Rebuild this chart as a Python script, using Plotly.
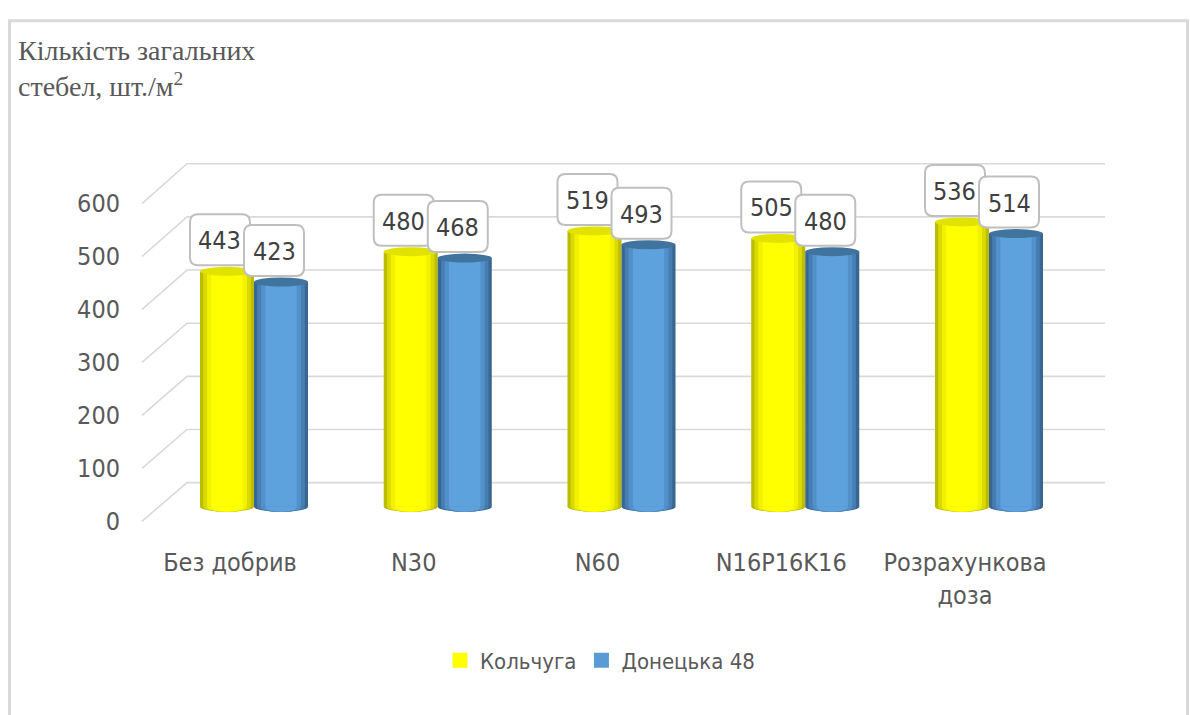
import plotly.graph_objects as go

# ---- data ----
categories = ["Без добрив", "N30", "N60", "N16P16K16", "Розрахункова<br>доза"]
kolchuga = [443, 480, 519, 505, 536]
donetska = [423, 468, 493, 480, 514]
series_names = ["Кольчуга", "Донецька 48"]
y_ticks = [0, 100, 200, 300, 400, 500, 600]

# ---- page geometry (pixels) ----
W, H = 1190, 715


def fx(px):
    return px / W


def fy(py):
    return 1 - py / H


CAT0, STEP = 254, 183.75      # bar-group centres
LAB0 = 230                    # category label centres (front edge)
BASE, SCALE = 512, 0.55       # bar floor and px per unit
BACK0, BACK_SCALE = 487, 0.55  # back wall
FRONT0, FRONT_SCALE = 527, 0.548  # front edge (tick labels)
BAR_W = 0.294
OFFS = [-BAR_W / 2, BAR_W / 2]

LABEL_FONT = "DejaVu Sans Condensed, Liberation Sans Narrow, Liberation Sans, sans-serif"
GREY = "#595959"

# cylinder shading layers: (width fraction, colour)
shades = [
    [(1.00, "#bcbc00"), (0.88, "#dada00"), (0.74, "#f2f200"), (0.58, "#ffff00")],
    [(1.00, "#386791"), (0.88, "#467eb3"), (0.74, "#5290ca"), (0.58, "#5ea2dd")],
]
legend_colors = ["#ffff00", "#5b9bd5"]
cap_colors = ["#e2e200", "#41739f"]
values = [kolchuga, donetska]

fig = go.Figure()
shapes = []

for s, (vals, name) in enumerate(zip(values, series_names)):
    xs = [i + OFFS[s] for i in range(len(categories))]
    for k, (frac, col) in enumerate(shades[s]):
        fig.add_trace(go.Bar(
            x=xs, y=vals, width=BAR_W * frac, name=name,
            marker=dict(color=col, line=dict(width=0)),
            showlegend=False, legendgroup=name, hoverinfo="skip",
        ))
        # rounded base of the cylinder
        for cx in xs:
            shapes.append(dict(
                type="circle", xref="x", yref="y", ysizemode="pixel", yanchor=0,
                x0=cx - BAR_W * frac / 2, x1=cx + BAR_W * frac / 2, y0=-5, y1=5,
                fillcolor=col, line=dict(width=0), layer="between",
            ))
    # top caps
    for cx, v in zip(xs, vals):
        shapes.append(dict(
            type="circle", xref="x", yref="y", ysizemode="pixel", yanchor=v,
            x0=cx - BAR_W / 2, x1=cx + BAR_W / 2, y0=-4.5, y1=4.5,
            fillcolor=cap_colors[s], line=dict(width=0), layer="above",
        ))

# legend keys (square swatches)
for name, col in zip(series_names, legend_colors):
    fig.add_trace(go.Scatter(
        x=[None], y=[None], mode="markers", name=name, legendgroup=name,
        marker=dict(symbol="square", size=15, color=col), hoverinfo="skip",
    ))

# value callouts with rounded boxes
annotations = []
bx0, bx1, by0, by1, r = -37, 23, 6, 57, 8
box_path = (f"M {bx0 + r},{by0} L {bx1 - r},{by0} Q {bx1},{by0} {bx1},{by0 + r} "
            f"L {bx1},{by1 - r} Q {bx1},{by1} {bx1 - r},{by1} L {bx0 + r},{by1} "
            f"Q {bx0},{by1} {bx0},{by1 - r} L {bx0},{by0 + r} Q {bx0},{by0} {bx0 + r},{by0} Z")
for i in range(len(categories)):
    for s, vals in enumerate(values):
        cx = i + OFFS[s]
        v = vals[i]
        shapes.append(dict(
            type="path", xref="x", yref="y", xsizemode="pixel", ysizemode="pixel",
            xanchor=cx, yanchor=v, path=box_path,
            fillcolor="white", line=dict(color="#bfbfbf", width=2), layer="above",
        ))
        annotations.append(dict(
            x=cx, y=v, xref="x", yref="y", text=str(v), showarrow=False,
            xshift=(bx0 + bx1) / 2, yshift=(by0 + by1) / 2 - 1,
            xanchor="center", yanchor="middle",
            font=dict(family=LABEL_FONT, size=25, color="#404040"),
        ))

# back-wall gridlines with their side-wall diagonals
for v in y_ticks:
    yf = FRONT0 - FRONT_SCALE * v
    yb = BACK0 - BACK_SCALE * v
    shapes.append(dict(
        type="path", xref="paper", yref="paper", layer="below",
        path=f"M {fx(142)},{fy(yf)} L {fx(187)},{fy(yb)} L {fx(1105)},{fy(yb)}",
        line=dict(color="#d9d9d9", width=1.6),
    ))

# outer chart frame
shapes.append(dict(
    type="rect", xref="paper", yref="paper", layer="below",
    x0=fx(9.5), x1=fx(1187.5), y0=-0.1, y1=fy(9),
    line=dict(color="#d9d9d9", width=3), fillcolor="rgba(0,0,0,0)",
))

# axis title
annotations.append(dict(
    xref="paper", yref="paper", x=fx(16), y=fy(22), xanchor="left", yanchor="top",
    text="Кількість загальних<br>стебел, шт./м<sup>2</sup>", showarrow=False, align="left",
    font=dict(family="Liberation Serif, Times New Roman, serif", size=28, color=GREY),
))

# carrier for the labelled front axes
fig.add_trace(go.Scatter(x=[None], y=[None], xaxis="x3", yaxis="y3", showlegend=False,
                         hoverinfo="skip", mode="markers"))

fig.update_layout(
    width=W, height=H,
    margin=dict(l=0, r=0, t=0, b=0),
    paper_bgcolor="white", plot_bgcolor="rgba(0,0,0,0)",
    barmode="overlay",
    xaxis=dict(range=[-0.5, 4.5], domain=[fx(CAT0 - STEP / 2), fx(CAT0 + 4.5 * STEP)], visible=False),
    yaxis=dict(range=[-30, 680], domain=[fy(BASE + 30 * SCALE), fy(BASE - 680 * SCALE)], visible=False),
    xaxis3=dict(
        range=[-0.5, 4.5], domain=[fx(LAB0 - STEP / 2), fx(LAB0 + 4.5 * STEP)],
        anchor="free", position=fy(552),
        tickmode="array", tickvals=list(range(len(categories))), ticktext=categories,
        showgrid=False, zeroline=False, showline=False, ticks="",
        tickfont=dict(family=LABEL_FONT, size=25, color=GREY),
    ),
    yaxis3=dict(
        range=[-5, 605],
        domain=[fy(FRONT0 + 5 * FRONT_SCALE), fy(FRONT0 - 605 * FRONT_SCALE)],
        anchor="free", position=fx(120), side="left",
        tickmode="array", tickvals=y_ticks,
        showgrid=False, zeroline=False, showline=False, ticks="",
        tickfont=dict(family=LABEL_FONT, size=25, color=GREY),
    ),
    legend=dict(
        orientation="h", x=fx(600), xanchor="center", y=fy(671), yanchor="middle",
        font=dict(family=LABEL_FONT, size=22, color=GREY), traceorder="normal",
        itemwidth=30,
    ),
    shapes=shapes,
    annotations=annotations,
    showlegend=True,
)

fig.write_html("out.html")
